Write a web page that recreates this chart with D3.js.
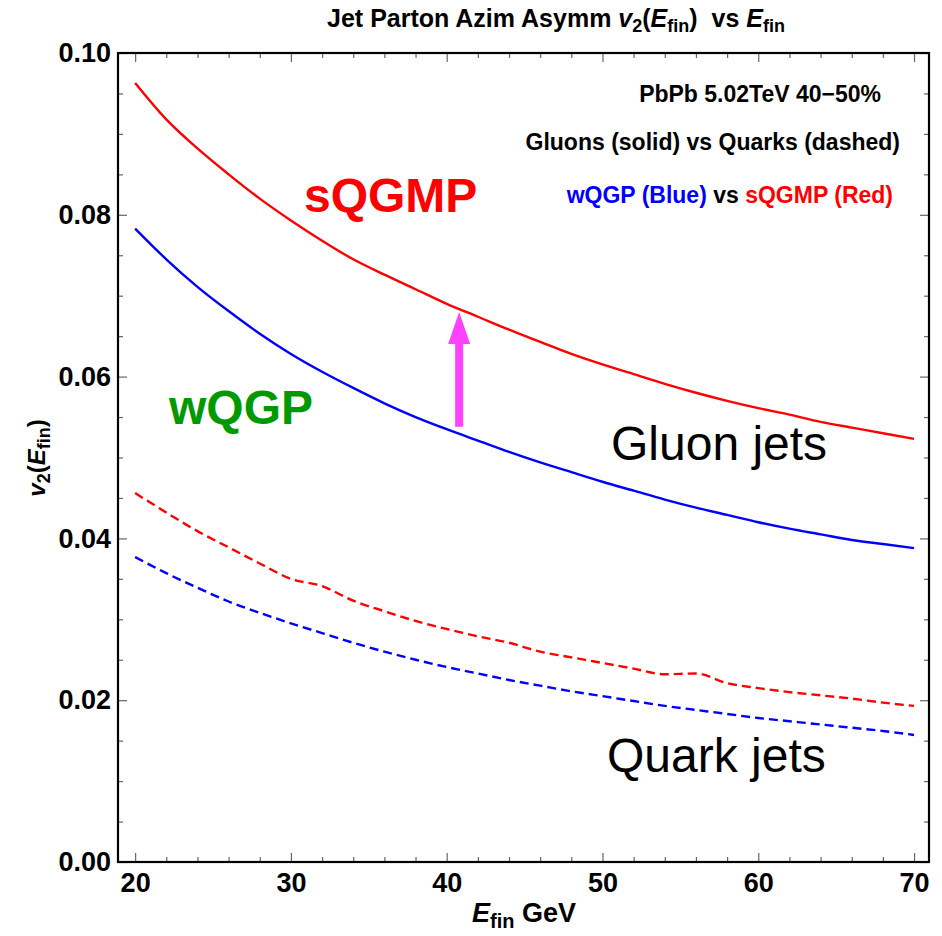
<!DOCTYPE html>
<html lang="en">
<head>
<meta charset="UTF-8">
<title>Jet Parton Azim Asymm</title>
<style>
    body { margin: 0; background: #fff; }
    svg { display: block; font-family: "Liberation Sans", Arial, sans-serif; }
</style>
</head>
<body>
<script src="https://d3js.org/d3.v7.min.js"></script>
<script>
var width = 942, height = 936;
// frame of the plot
var frame = { left: 118, right: 929, top: 53, bottom: 862 };

// E_fin (GeV)
var energy = [20, 22, 24, 26, 28, 30, 32, 34, 36, 38, 40, 42, 44, 46, 48, 50, 52, 54, 56, 58, 60, 62, 64, 66, 68, 70];
// gluon jets (solid)
var gluonSQGMP = [0.0963, 0.0918, 0.0882, 0.0850, 0.0820, 0.0793, 0.0768, 0.0745, 0.0726, 0.0708, 0.0690, 0.0674, 0.0658,
    0.0643, 0.0628, 0.0615, 0.0603, 0.0591, 0.0580, 0.0570, 0.0561, 0.0553, 0.0544, 0.0537, 0.0530, 0.0523];
var gluonWQGP = [0.0783, 0.0745, 0.0711, 0.0681, 0.0653, 0.0628, 0.0606, 0.0586, 0.0567, 0.0550, 0.0535, 0.0521, 0.0507,
    0.0494, 0.0482, 0.0470, 0.0459, 0.0448, 0.0438, 0.0429, 0.0420, 0.0412, 0.0405, 0.0398, 0.0393, 0.0388];
// quark jets (dashed)
var quarkSQGMP = [0.0456, 0.0432, 0.0409, 0.0389, 0.0369, 0.0350, 0.0341, 0.0323, 0.0310, 0.0298, 0.0288, 0.0279, 0.0271,
    0.0260, 0.0253, 0.0246, 0.0239, 0.0232, 0.0233, 0.0221, 0.0215, 0.0210, 0.0206, 0.0202, 0.0197, 0.0193];
var quarkWQGP = [0.0377, 0.0357, 0.0339, 0.0322, 0.0308, 0.0295, 0.0283, 0.0271, 0.0260, 0.0250, 0.0241, 0.0233, 0.0225,
    0.0218, 0.0211, 0.0205, 0.0199, 0.0193, 0.0188, 0.0183, 0.0178, 0.0174, 0.0170, 0.0166, 0.0162, 0.0157];

var xTicks = [20, 30, 40, 50, 60, 70];
var yTicks = [0, 0.02, 0.04, 0.06, 0.08, 0.10];
// arrow wQGP -> sQGMP  [E, v2 from, v2 to]
var arrowAt = [40.8, 0.0538, 0.0680];

var x = d3.scaleLinear().domain([18.9, 70.96]).range([frame.left, frame.right]);
var y = d3.scaleLinear().domain([0, 0.1]).range([frame.bottom, frame.top]);

var svg = d3.select('body').append('svg').attr('width', width).attr('height', height);

// minor ticks
var xMinor = d3.range(20, 71, 2).filter(function(d) { return d % 10 != 0; });
var yMinor = d3.range(0, 21).map(function(i) { return i * 0.005; }).filter(function(d, i) { return i % 4 != 0; });

function styleAxis(g) {
    g.select('.domain').remove();
    g.selectAll('.tick line').attr('stroke', '#666').attr('stroke-width', 1.2);
    g.selectAll('.tick text').attr('font-size', 27).attr('font-weight', 'bold').attr('fill', '#000')
        .attr('font-family', '"Liberation Sans", Arial, sans-serif');
}

svg.append('g').attr('transform', 'translate(0,' + frame.bottom + ')')
    .call(d3.axisBottom(x).tickValues(xTicks).tickSize(-9).tickPadding(11).tickFormat(d3.format('d'))).call(styleAxis);
svg.append('g').attr('transform', 'translate(0,' + frame.bottom + ')')
    .call(d3.axisBottom(x).tickValues(xMinor).tickSize(-5).tickFormat('')).call(styleAxis);
svg.append('g').attr('transform', 'translate(0,' + frame.top + ')')
    .call(d3.axisTop(x).tickValues(xTicks).tickSize(-9).tickFormat('')).call(styleAxis);
svg.append('g').attr('transform', 'translate(0,' + frame.top + ')')
    .call(d3.axisTop(x).tickValues(xMinor).tickSize(-5).tickFormat('')).call(styleAxis);

svg.append('g').attr('transform', 'translate(' + frame.left + ',0)')
    .call(d3.axisLeft(y).tickValues(yTicks).tickSize(-9).tickPadding(7).tickFormat(d3.format('.2f'))).call(styleAxis);
svg.append('g').attr('transform', 'translate(' + frame.left + ',0)')
    .call(d3.axisLeft(y).tickValues(yMinor).tickSize(-5).tickFormat('')).call(styleAxis);
svg.append('g').attr('transform', 'translate(' + frame.right + ',0)')
    .call(d3.axisRight(y).tickValues(yTicks).tickSize(-9).tickFormat('')).call(styleAxis);
svg.append('g').attr('transform', 'translate(' + frame.right + ',0)')
    .call(d3.axisRight(y).tickValues(yMinor).tickSize(-5).tickFormat('')).call(styleAxis);

// frame
svg.append('rect')
    .attr('x', frame.left).attr('y', frame.top)
    .attr('width', frame.right - frame.left).attr('height', frame.bottom - frame.top)
    .attr('fill', 'none').attr('stroke', '#000').attr('stroke-width', 2.2);

// curves
var line = d3.line()
    .x(function(d) { return x(d[0]); })
    .y(function(d) { return y(d[1]); })
    .curve(d3.curveMonotoneX);

var series = [
    { values: gluonSQGMP, color: '#ff0000', dash: null },
    { values: gluonWQGP, color: '#0000ff', dash: null },
    { values: quarkSQGMP, color: '#ff0000', dash: '9,5' },
    { values: quarkWQGP, color: '#0000ff', dash: '9,5' }
];

svg.selectAll('path.curve')
    .data(series)
    .enter()
    .append('path')
    .attr('class', 'curve')
    .attr('d', function(s) { return line(energy.map(function(e, i) { return [e, s.values[i]]; })); })
    .attr('fill', 'none')
    .attr('stroke', function(s) { return s.color; })
    .attr('stroke-width', 2.4)
    .attr('stroke-dasharray', function(s) { return s.dash; });

// magenta arrow
var ax = x(arrowAt[0]), ay0 = y(arrowAt[1]), ay1 = y(arrowAt[2]);
var headLen = 32, headHalf = 11, shaftHalf = 4;
svg.append('path')
    .attr('d', 'M' + (ax - shaftHalf) + ',' + ay0 + 'L' + (ax - shaftHalf) + ',' + (ay1 + headLen) +
        'L' + (ax - headHalf) + ',' + (ay1 + headLen) + 'L' + ax + ',' + ay1 +
        'L' + (ax + headHalf) + ',' + (ay1 + headLen) + 'L' + (ax + shaftHalf) + ',' + (ay1 + headLen) +
        'L' + (ax + shaftHalf) + ',' + ay0 + 'Z')
    .attr('fill', '#ff40ff');

// title
var title = svg.append('text')
    .attr('x', 556).attr('y', 27)
    .attr('text-anchor', 'middle')
    .attr('font-size', 25).attr('font-weight', 'bold');
title.append('tspan').text('Jet Parton Azim Asymm ');
title.append('tspan').attr('font-style', 'italic').text('v');
title.append('tspan').attr('font-size', 18).attr('dy', 5).text('2');
title.append('tspan').attr('dy', -5).text('(');
title.append('tspan').attr('font-style', 'italic').text('E');
title.append('tspan').attr('font-size', 18).attr('dy', 5).text('fin');
title.append('tspan').attr('dy', -5).text(')\u00a0\u00a0vs ');
title.append('tspan').attr('font-style', 'italic').text('E');
title.append('tspan').attr('font-size', 18).attr('dy', 5).text('fin');

// x axis title
var xt = svg.append('text')
    .attr('x', 524).attr('y', 922)
    .attr('text-anchor', 'middle')
    .attr('font-size', 27).attr('font-weight', 'bold');
xt.append('tspan').attr('font-style', 'italic').text('E');
xt.append('tspan').attr('font-size', 20).attr('dy', 6).text('fin');
xt.append('tspan').attr('dy', -6).text(' GeV');

// y axis title
var yt = svg.append('text')
    .attr('transform', 'translate(45,458) rotate(-90)')
    .attr('text-anchor', 'middle')
    .attr('font-size', 24).attr('font-weight', 'bold');
yt.append('tspan').attr('font-style', 'italic').text('v');
yt.append('tspan').attr('font-size', 18).attr('dy', 5).text('2');
yt.append('tspan').attr('dy', -5).text('(');
yt.append('tspan').attr('font-style', 'italic').text('E');
yt.append('tspan').attr('font-size', 18).attr('dy', 5).text('fin');
yt.append('tspan').attr('dy', -5).text(')');

// legend notes
svg.append('text').attr('x', 881).attr('y', 102).attr('text-anchor', 'end')
    .attr('font-size', 23).attr('font-weight', 'bold').text('PbPb 5.02TeV 40\u221250%');
svg.append('text').attr('x', 900).attr('y', 150).attr('text-anchor', 'end')
    .attr('font-size', 23).attr('font-weight', 'bold').text('Gluons (solid) vs Quarks (dashed)');
var note = svg.append('text').attr('x', 893).attr('y', 203).attr('text-anchor', 'end')
    .attr('font-size', 23).attr('font-weight', 'bold');
note.append('tspan').attr('fill', '#0000ff').text('wQGP (Blue)');
note.append('tspan').attr('fill', '#000').text(' vs ');
note.append('tspan').attr('fill', '#ff0000').text('sQGMP (Red)');

// big labels
svg.append('text').attr('x', 304).attr('y', 212)
    .attr('font-size', 48).attr('font-weight', 'bold').attr('fill', '#ff0000').text('sQGMP');
svg.append('text').attr('x', 169).attr('y', 424)
    .attr('font-size', 48).attr('font-weight', 'bold').attr('fill', '#009a00').text('wQGP');
svg.append('text').attr('x', 611).attr('y', 460)
    .attr('font-size', 48).attr('fill', '#000').text('Gluon jets');
svg.append('text').attr('x', 607).attr('y', 772)
    .attr('font-size', 48).attr('fill', '#000').text('Quark jets');
</script>
</body>
</html>
